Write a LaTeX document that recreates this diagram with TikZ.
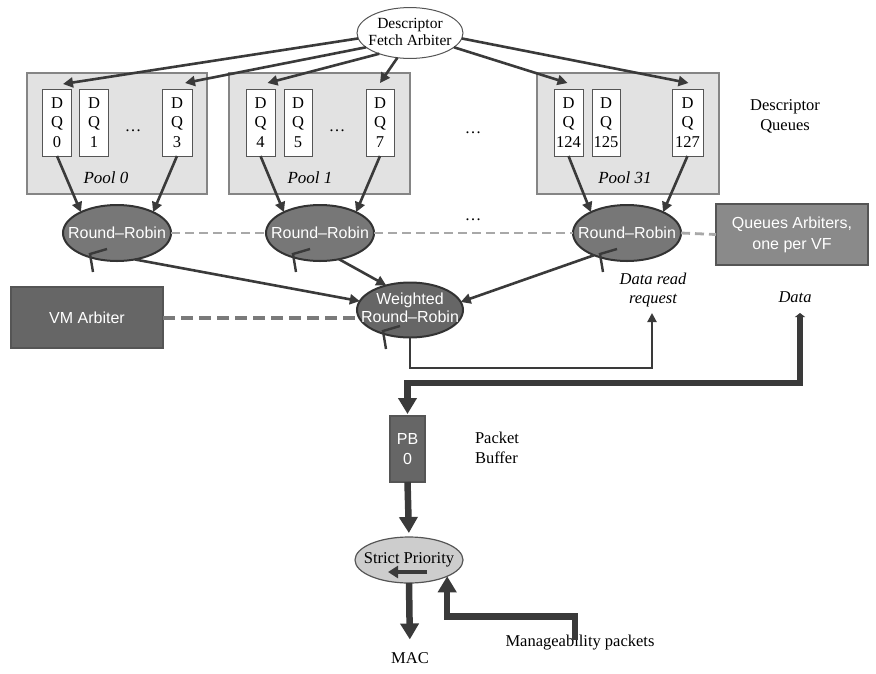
\documentclass[tikz,border=0pt]{standalone}
\usepackage{fontspec}
\setmainfont{Liberation Serif}
\newfontfamily\sansf{Liberation Sans}
\usetikzlibrary{shapes.geometric,arrows.meta}
\definecolor{arrowc}{HTML}{3A3A3A}
\definecolor{poolfill}{HTML}{E2E2E2}
\definecolor{poolline}{HTML}{858585}
\definecolor{boxline}{HTML}{555555}
\definecolor{rrfill}{HTML}{777777}
\definecolor{rrline}{HTML}{333333}
\definecolor{qafill}{HTML}{8A8A8A}
\definecolor{vmfill}{HTML}{666666}
\definecolor{spfill}{HTML}{CDCDCD}
\definecolor{dashlight}{HTML}{A8A8A8}
\definecolor{dashdark}{HTML}{7A7A7A}
\newcommand\srf{\fontsize{16.5}{19.5}\selectfont}
\newcommand\snf{\sansf\fontsize{16}{19}\selectfont}
\begin{document}
\begin{tikzpicture}[x=1pt,y=-1pt,
  every node/.style={inner sep=0pt,outer sep=0pt},
  pool/.style={draw=poolline,fill=poolfill,line width=1.2pt,minimum height=121pt},
  dq/.style={draw=boxline,fill=white,line width=1pt,minimum width=29pt,minimum height=67pt,align=center,font=\srf},
  rr/.style={ellipse,draw=rrline,fill=rrfill,line width=2pt,minimum width=108pt,minimum height=56pt,text=white,font=\snf},
  greybox/.style={draw=boxline,line width=1.2pt,text=white,font=\snf,align=center},
  txt/.style={font=\srf,align=center},
  arr/.style={draw=arrowc,line width=2.6pt,-{Triangle[width=10pt,length=10pt]}},
  hook/.style={draw=arrowc,line width=2.4pt},
  thick arr/.style={draw=arrowc,line width=6.5pt,-{Triangle[width=18pt,length=16pt]}},
  lightdash/.style={draw=dashlight,line width=2.8pt,dash pattern=on 9pt off 5pt},
  darkdash/.style={draw=dashdark,line width=4pt,dash pattern=on 12pt off 6pt}]
\useasboundingbox[fill=white] (0,0) rectangle (876,673);

% pools
\node[pool,minimum width=180pt] (p0) at (117,133.5) {};
\node[pool,minimum width=181pt] (p1) at (319.5,133.5) {};
\node[pool,minimum width=182pt] (p31) at (628,133.5) {};
\node[txt,font=\fontsize{17}{20}\selectfont\itshape] (l0) at (106,178) {Pool 0};
\node[txt,font=\fontsize{17}{20}\selectfont\itshape] (l1) at (310,178) {Pool 1};
\node[txt,font=\fontsize{17}{20}\selectfont\itshape] (l31) at (625,178) {Pool 31};

% descriptor queues
\node[dq] (dq0) at (57,122.5) {D\\Q\\0};
\node[dq] (dq1) at (94,122.5) {D\\Q\\1};
\node[dq,minimum width=30pt] (dq3) at (177,122.5) {D\\Q\\3};
\node[dq] (dq4) at (260.5,122.5) {D\\Q\\4};
\node[dq,minimum width=28pt] (dq5) at (298,122.5) {D\\Q\\5};
\node[dq,minimum width=28pt] (dq7) at (380,122.5) {D\\Q\\7};
\node[dq] (dq124) at (568.5,122.5) {D\\Q\\124};
\node[dq,minimum width=28pt] (dq125) at (606,122.5) {D\\Q\\125};
\node[dq,minimum width=31pt] (dq127) at (687.5,122.5) {D\\Q\\127};
\node[txt] (e0) at (133,131) {\dots};
\node[txt] (e1) at (337,131) {\dots};
\node[txt] (e2) at (473,133) {\dots};
\node[txt] (e3) at (473,220) {\dots};

% descriptor fetch arbiter
\node[ellipse,draw=boxline,fill=white,line width=1pt,minimum width=106pt,minimum height=49pt,font=\fontsize{15.5}{19}\selectfont] (dfa) at (410,33)
  {\makebox[0pt]{\begin{tabular}{@{}c@{}}Descriptor\\[-2pt]Fetch Arbiter\end{tabular}}};
\node[txt] (dqlab) at (785,116.5) {Descriptor\\[1pt]Queues};

% round robins
\node[rr] (rr0) at (117,233) {\makebox[0pt]{Round–Robin}};
\node[rr] (rr1) at (320,233) {\makebox[0pt]{Round–Robin}};
\node[rr] (rr31) at (627,233) {\makebox[0pt]{Round–Robin}};
\node[rr,fill=vmfill,minimum width=106pt,minimum height=55pt] (wrr) at (410,310)
  {\makebox[0pt]{\begin{tabular}{@{}c@{}}Weighted\\[-1pt]Round–Robin\end{tabular}}};

\node[greybox,fill=qafill,minimum width=152pt,minimum height=61pt,font=\sansf\fontsize{16}{21}\selectfont] (qa) at (792,234.5) {Queues Arbiters,\\one per VF};
\node[greybox,fill=vmfill,minimum width=152pt,minimum height=61pt] (vm) at (87,317.5) {VM Arbiter};

% dashed links
\draw[lightdash] (rr0.east) -- (rr1.west);
\draw[lightdash] (rr1.east) -- (rr31.west);
\draw[lightdash] (rr31.east) -- (qa.west);
\draw[darkdash,shorten >=2pt] (vm.east) -- (vm.east -| wrr.west);

% fetch arbiter to queues
\draw[arr] (dfa.186) -- ([shift={(6,-5)}]dq0.north);
\draw[arr] (dfa.198) -- ([shift={(8,-6)}]dq3.north);
\draw[arr] (dfa.214) -- ([shift={(7,-6)}]dq4.north);
\draw[arr] (dfa.243) -- ([shift={(0,-6)}]dq7.north);
\draw[arr] (dfa.342) -- ([shift={(-1,-6)}]dq124.north);
\draw[arr] (dfa.354) -- ([shift={(1,-6)}]dq127.north);

% queues to round robins
\draw[arr] (dq0.south) -- (rr0.150);
\draw[arr] (dq3.south) -- (rr0.30);
\draw[arr] (dq4.south) -- (rr1.150);
\draw[arr] (dq7.south) -- (rr1.30);
\draw[arr] (dq124.south) -- (rr31.150);
\draw[arr] (dq127.south) -- (rr31.30);

% round robins to weighted
\draw[arr] (rr0.304) -- (wrr.170);
\draw[arr] (rr1.306) -- (wrr.134);
\draw[arr] (rr31.214) -- (wrr.9);

% hooks
\foreach \n in {rr0,rr1,rr31,wrr}
  \draw[hook] ([shift={(-10,16)}]\n.center) -- ([shift={(-27,21)}]\n.center) -- ([shift={(-24,39)}]\n.center);

% labels
\node[txt,font=\srf\itshape] (drr) at (653,290) {Data read\\request};
\node[txt,font=\srf\itshape] (dlab) at (795,297) {Data};
\coordinate (dreqend) at (652,313);
\coordinate (dataend) at (800,313);

% data read request
\draw[draw=arrowc,line width=2pt,-{Triangle[width=9pt,length=9pt]}] (wrr.south) -- ++(0,30) -| (dreqend);

% packet buffer
\node[greybox,fill=vmfill,minimum width=35pt,minimum height=66pt,font=\sansf\fontsize{16}{20}\selectfont] (pb) at (407.5,449) {PB\\0};
\node[txt,align=left,anchor=west] (pblab) at (475,448) {Packet\\Buffer};
\draw[thick arr,{Triangle[width=10pt,length=4pt]}-{Triangle[width=18pt,length=16pt]},shorten >=2pt] (dataend) -- (800,383) -| (pb.north);

% strict priority
\node[ellipse,draw=boxline,fill=spfill,line width=1.2pt,minimum width=108pt,minimum height=46pt,font=\srf] (sp) at (409,560) {\makebox[0pt]{Strict Priority}};
\draw[thick arr,shorten >=4pt] (pb.south) -- (sp.north);
\draw[draw=arrowc,line width=4.5pt,-{Triangle[width=12pt,length=10pt]}] ([shift={(18,12)}]sp.center) -- ([shift={(-21,12)}]sp.center);

\node[txt] (mac) at (410,658) {MAC};
\draw[thick arr,shorten >=13pt] (sp.south) -- (mac.north);

\node[txt] (mgmt) at (580,643) {Manageability packets};
\draw[thick arr] ([xshift=-5pt,yshift=-4pt]mgmt.north) -- ++(0,-23) -| (sp.south east);
\end{tikzpicture}
\end{document}
